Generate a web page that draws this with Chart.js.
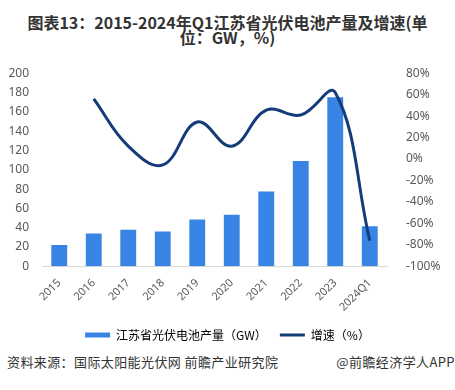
<!DOCTYPE html>
<html>
<head>
<meta charset="utf-8">
<script src="https://cdn.jsdelivr.net/npm/chart.js@4"></script>
<style>
  body { margin: 0; width: 455px; height: 390px; background: #fff; position: relative; overflow: hidden;
         font-family: "Noto Sans CJK SC", "Noto Sans", sans-serif; }
  .title { position: absolute; top: 15px; left: 0; width: 455px; text-align: center;
           font-size: 16px; line-height: 15px; font-weight: bold; color: #333; }
  .wrap { position: absolute; top: 55px; left: 0; width: 455px; height: 296px; }
  .src { position: absolute; top: 352px; left: 7px; font-size: 13px; color: #333; letter-spacing: 0.4px; }
  .app { position: absolute; top: 352px; right: 0; font-size: 13px; color: #333; letter-spacing: 0.4px; }
</style>
</head>
<body>
<div class="title">图表13：2015-2024年Q1江苏省光伏电池产量及增速(单<br>位：GW，%)</div>
<div class="wrap"><canvas id="chart"></canvas></div>
<div class="src">资料来源：国际太阳能光伏网 前瞻产业研究院</div>
<div class="app">@前瞻经济学人APP</div>
<script>
const years = ["2015", "2016", "2017", "2018", "2019", "2020", "2021", "2022", "2023", "2024Q1"];
const output = [22, 34, 38, 36, 48.5, 53.5, 77.5, 109, 175, 41.5];
const growth = [null, 56, 12, -5.5, 34.5, 12, 45.5, 41, 62, -76];

const barColor = "#3784e4";
const lineColor = "#143c78";
const tickColor = "#595959";

const ctx = document.getElementById("chart");

new Chart(ctx, {
  data: {
    labels: years,
    datasets: [
      {
        type: "line",
        label: "增速（%）",
        data: growth,
        yAxisID: "y1",
        borderColor: lineColor,
        borderWidth: 3,
        pointRadius: 0,
        tension: 0.4,
        order: 0,
      },
      {
        type: "bar",
        label: "江苏省光伏电池产量（GW）",
        data: output,
        yAxisID: "y",
        backgroundColor: barColor,
        barPercentage: 0.46,
        categoryPercentage: 1,
        order: 1,
      },
    ],
  },
  options: {
    responsive: true,
    maintainAspectRatio: false,
    animation: false,
    layout: { padding: { top: 15, bottom: 0 } },
    plugins: {
      tooltip: { enabled: false },
      legend: {
        position: "bottom",
        labels: {
          color: "#404040",
          font: { size: 12, family: "Noto Sans CJK SC" },
          usePointStyle: true,
          pointStyleWidth: 25,
          boxHeight: 5,
          padding: 13,
          generateLabels: () => [
            { text: "江苏省光伏电池产量（GW）", pointStyle: "rect", fillStyle: barColor, strokeStyle: barColor, lineWidth: 0, datasetIndex: 1 },
            { text: "增速（%）", pointStyle: "line", fillStyle: lineColor, strokeStyle: lineColor, lineWidth: 3, datasetIndex: 0 },
          ],
        },
      },
    },
    scales: {
      x: {
        grid: { display: false },
        border: { color: "#d9d9d9" },
        ticks: {
          color: tickColor,
          font: { size: 11, family: "Noto Sans" },
          minRotation: 45,
          maxRotation: 45,
          padding: 2,
        },
      },
      y: {
        position: "left",
        min: 0,
        max: 200,
        grid: { display: false },
        border: { display: false },
        ticks: { stepSize: 20, color: tickColor, font: { size: 12, family: "Noto Sans" }, padding: 5 },
        afterFit: (s) => { s.width = 42; },
      },
      y1: {
        position: "right",
        min: -100,
        max: 80,
        grid: { display: false },
        border: { display: false },
        ticks: { stepSize: 20, color: tickColor, font: { size: 12, family: "Noto Sans" }, padding: 11,
                 callback: (v) => v + "%" },
        afterFit: (s) => { s.width = 68; },
      },
    },
  },
});
</script>
</body>
</html>
